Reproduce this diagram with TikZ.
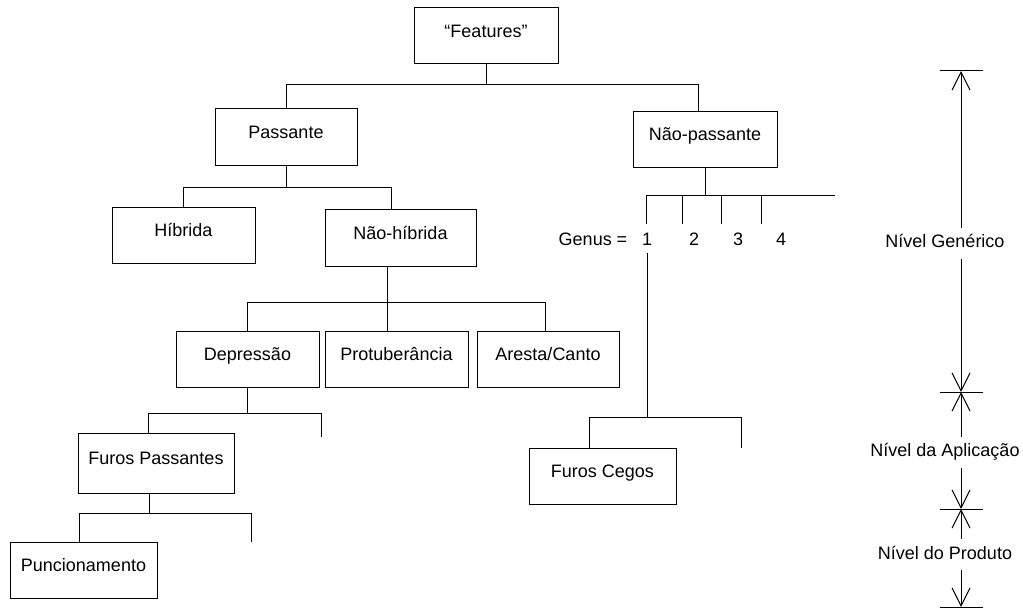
\documentclass[tikz,border=0pt]{standalone}
\usepackage{fontspec}
\setmainfont{Liberation Sans}
\usetikzlibrary{arrows.meta,positioning}
\newcommand{\figfont}{\fontsize{18}{21}\selectfont}
\tikzset{
  featbox/.style={
    rectangle, draw=black, line width=1pt,
    minimum width=#1, minimum height=56pt,
    font=\figfont, text height=13pt, text depth=10pt,
    inner sep=0pt
  },
  featbox/.default=143pt,
  treeline/.style={line width=1pt},
  genuslabel/.style={font=\figfont, inner sep=1pt, outer sep=7pt},
  levelarrow/.style={
    {Straight Barb[length=18pt,width=18pt]}-{Straight Barb[length=18pt,width=18pt]},
    line width=1pt
  },
  levellabel/.style={fill=white, font=\figfont, text height=13pt,
    text depth=4pt, inner xsep=2pt, inner ysep=7pt, xshift=-16pt},
}
\begin{document}
\begin{tikzpicture}[x=1pt, y=-1pt]
\useasboundingbox (0,0) rectangle (1023,610);

% feature boxes
\node[featbox=144pt] (feat) at (486,36) {“Features”};
\node[featbox=142pt, minimum height=57pt] (pass) at (286,136.5) {Passante};
\node[featbox=144pt] (npass) at (705,139) {Não-passante};
\node[featbox] (hib) at (183.5,235) {Híbrida};
\node[featbox=151pt, minimum height=57pt] (nhib) at (400.5,237.5) {Não-híbrida};
\node[featbox] (dep) at (247.5,359) {Depressão};
\node[featbox] (prot) at (396.5,359) {Protuberância};
\node[featbox=142pt] (ares) at (548,359) {Aresta/Canto};
\node[featbox=156pt, minimum height=60pt] (fpass) at (156,463) {Furos Passantes};
\node[featbox=147pt] (punc) at (83.5,570) {Puncionamento};
\node[featbox=147pt] (fceg) at (602.5,476) {Furos Cegos};

% genus labels
\node[genuslabel] (genus) at (593,239) {Genus =};
\foreach \x [count=\i] in {647,694,738,781}
  \node[genuslabel] (g\i) at (\x,239) {\i};

% bus levels and free ends
\coordinate (b0) at (0,85);
\coordinate (b1) at (0,187);
\coordinate (b2) at (0,302);
\coordinate (b3) at (835,195);
\foreach \x [count=\i] in {646,682,721,761}
  \coordinate (gt\i) at (\x,224);
\coordinate (b4) at (741,417);
\coordinate (t4) at (741,448);
\coordinate (b5) at (321,413);
\coordinate (t5) at (321,437);
\coordinate (b6) at (251,513);
\coordinate (t6) at (251,542);

% tree connectors
\draw[treeline] (feat.south) -- (feat.south |- b0);
\draw[treeline] (pass.north) |- ([xshift=-7pt]npass.north |- b0)
  -- ([xshift=-7pt]npass.north);

\draw[treeline] (pass.south) -- (pass.south |- b1);
\draw[treeline] (hib.north) |- ([xshift=-9.5pt]nhib.north |- b1)
  -- ([xshift=-9.5pt]nhib.north);

\draw[treeline] ([xshift=-13.5pt]nhib.south) -- ([xshift=-13.5pt]nhib.south |- b2);
\draw[treeline] (dep.north) |- ([xshift=-3pt]ares.north |- b2)
  -- ([xshift=-3pt]ares.north);
\draw[treeline] ([xshift=-9.5pt]prot.north) -- ([xshift=-9.5pt]prot.north |- b2);

\draw[treeline] (npass.south) -- (npass.south |- b3);
\draw[treeline] (gt1 |- b3) -- (b3);
\foreach \i in {1,...,4}
  \draw[treeline] (gt\i |- b3) -- (gt\i);

\draw[treeline] (g1.south) -- (g1.south |- b4);
\draw[treeline] ([xshift=-13.5pt]fceg.north) |- (b4) -- (t4);

\draw[treeline] (dep.south) -- (dep.south |- b5);
\draw[treeline] ([xshift=-8pt]fpass.north) |- (b5) -- (t5);

\draw[treeline] ([xshift=-7pt]fpass.south) -- ([xshift=-7pt]fpass.south |- b6);
\draw[treeline] ([xshift=-4.5pt]punc.north) |- (b6) -- (t6);

% levels
\coordinate (lv1) at (961,71);
\coordinate (lv2) at (961,392);
\coordinate (lv3) at (961,509);
\coordinate (lv4) at (961,607);
\foreach \i in {1,...,4}
  \draw[treeline] ([xshift=-21pt]lv\i) -- ([xshift=22pt]lv\i);
\draw[levelarrow] (lv1) -- node[levellabel, pos=0.536] (lgen) {Nível Genérico} (lv2);
\draw[levelarrow] (lv2) -- node[levellabel, pos=0.513] (lapl) {Nível da Aplicação} (lv3);
\draw[levelarrow] (lv3) -- node[levellabel, pos=0.469] (lprod) {Nível do Produto} (lv4);
\end{tikzpicture}
\end{document}
